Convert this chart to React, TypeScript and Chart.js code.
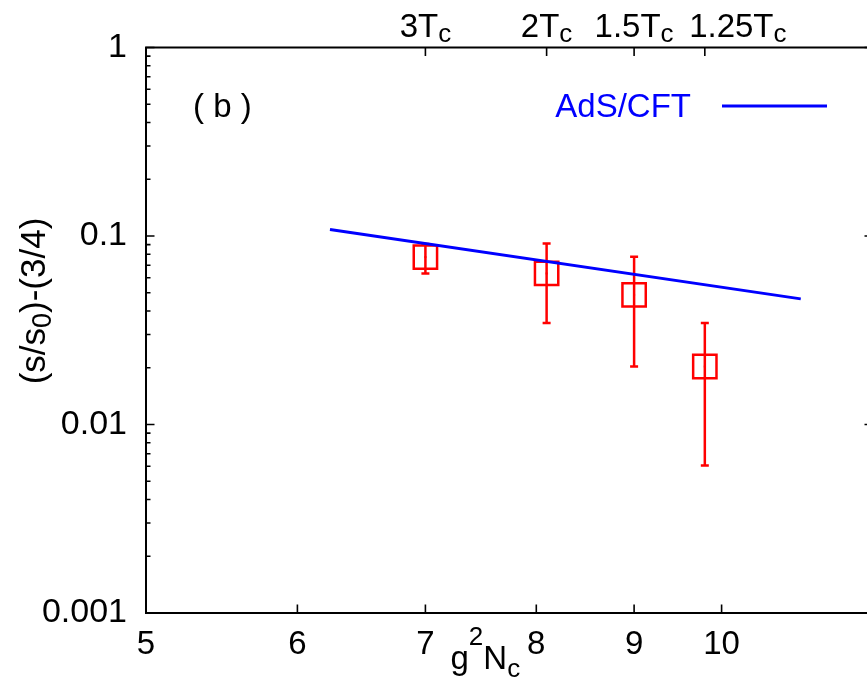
import React, { useEffect, useRef } from "react";
import { Chart, registerables } from "chart.js";

Chart.register(...registerables);

// ---- data ----
const X_TICKS = [5, 6, 7, 8, 9, 10];
const Y_TICKS = [1, 0.1, 0.01, 0.001];
const Y_TICK_LABELS = ["1", "0.1", "0.01", "0.001"];
const Y_MINOR = [
  0.9, 0.8, 0.7, 0.6, 0.5, 0.4, 0.3, 0.2,
  0.09, 0.08, 0.07, 0.06, 0.05, 0.04, 0.03, 0.02,
  0.009, 0.008, 0.007, 0.006, 0.005, 0.004, 0.003, 0.002,
];
const TOP_TICKS = [7.0, 8.1, 9.0, 9.8];
const TOP_LABELS = ["3T", "2T", "1.5T", "1.25T"];

const ADS_X = [6.24, 11.0];
const ADS_Y = [0.1084, 0.0464];

const LAT_X = [7.0, 8.1, 9.0, 9.8];
const LAT_Y = [0.0773, 0.0633, 0.0487, 0.0203];
const LAT_LO = [0.0633, 0.0346, 0.0203, 0.00606];
const LAT_HI = [0.0906, 0.0913, 0.0776, 0.0346];

const FONT = '"Liberation Sans", Arial, Helvetica, sans-serif';

type Part = [string, number, number];

function drawParts(ctx: CanvasRenderingContext2D, parts: Part[], x: number, y: number, align: "left" | "center" | "right") {
  let total = 0;
  const widths: number[] = [];
  for (const p of parts) {
    ctx.font = `${p[1]}px ${FONT}`;
    const w = ctx.measureText(p[0]).width;
    widths.push(w);
    total += w;
  }
  let cx = align === "center" ? x - total / 2 : align === "right" ? x - total : x;
  ctx.textAlign = "left";
  ctx.textBaseline = "alphabetic";
  parts.forEach((p, i) => {
    ctx.font = `${p[1]}px ${FONT}`;
    ctx.fillText(p[0], cx, y + p[2]);
    cx += widths[i];
  });
}

const decorPlugin = {
  id: "decor",
  beforeDatasetsDraw(chart: any) {
    const ctx: CanvasRenderingContext2D = chart.ctx;
    const xs = chart.scales.x;
    const ys = chart.scales.y;
    ctx.save();
    ctx.strokeStyle = "#ff0000";
    ctx.lineWidth = 2.5;
    ctx.beginPath();
    for (let i = 0; i < LAT_X.length; i++) {
      const px = xs.getPixelForValue(LAT_X[i]);
      const lo = ys.getPixelForValue(LAT_LO[i]);
      const hi = ys.getPixelForValue(LAT_HI[i]);
      ctx.moveTo(px, lo);
      ctx.lineTo(px, hi);
      ctx.moveTo(px - 4, lo);
      ctx.lineTo(px + 4, lo);
      ctx.moveTo(px - 4, hi);
      ctx.lineTo(px + 4, hi);
    }
    ctx.stroke();
    ctx.fillStyle = "#ff0000";
    for (let i = 0; i < LAT_X.length; i++) {
      const px = xs.getPixelForValue(LAT_X[i]);
      const py = ys.getPixelForValue(LAT_Y[i]);
      ctx.fillRect(px - 1, py - 1, 2, 2);
    }
    ctx.restore();
  },
  afterDraw(chart: any) {
    const ctx: CanvasRenderingContext2D = chart.ctx;
    const { left, right, top, bottom } = chart.chartArea;
    const xs = chart.scales.x;
    const ys = chart.scales.y;
    ctx.save();
    ctx.strokeStyle = "#000";
    ctx.lineWidth = 2;
    ctx.beginPath();
    ctx.moveTo(left, top);
    ctx.lineTo(right, top);
    ctx.lineTo(right, bottom);
    ctx.lineTo(left, bottom);
    ctx.closePath();
    ctx.stroke();

    ctx.lineWidth = 1.6;
    ctx.beginPath();
    for (const v of Y_TICKS) {
      const py = ys.getPixelForValue(v);
      ctx.moveTo(left, py);
      ctx.lineTo(left + 8.5, py);
      ctx.moveTo(right, py);
      ctx.lineTo(right - 8.5, py);
    }
    for (const v of Y_MINOR) {
      const py = ys.getPixelForValue(v);
      ctx.moveTo(left, py);
      ctx.lineTo(left + 4.5, py);
      ctx.moveTo(right, py);
      ctx.lineTo(right - 4.5, py);
    }
    for (const v of X_TICKS) {
      const px = xs.getPixelForValue(v);
      ctx.moveTo(px, bottom);
      ctx.lineTo(px, bottom - 8.5);
    }
    for (const v of TOP_TICKS) {
      const px = xs.getPixelForValue(v);
      ctx.moveTo(px, top);
      ctx.lineTo(px, top + 8.5);
    }
    ctx.stroke();

    ctx.fillStyle = "#000";
    TOP_TICKS.forEach((v, i) => {
      const px = xs.getPixelForValue(v) + (i === TOP_TICKS.length - 1 ? 33 : 0);
      drawParts(ctx, [[TOP_LABELS[i], 33, 0], ["c", 26, 5]], px, top - 11, "center");
    });

    // x axis title
    drawParts(ctx, [["g", 33, 0], ["2", 26, -24], ["N", 33, 0], ["c", 26, 8]], 450.5, 669, "left");

    // y axis title
    ctx.save();
    ctx.translate(45, 301);
    ctx.rotate(-Math.PI / 2);
    drawParts(ctx, [["(s/s", 35, 0], ["0", 27, 6], [")-(3/4)", 35, 0]], 0, 0, "center");
    ctx.restore();

    // panel label
    drawParts(ctx, [["( b )", 33, 0]], 193, 117, "left");

    // legend
    ctx.fillStyle = "#0000ff";
    drawParts(ctx, [["AdS/CFT", 33, 0]], 691, 117, "right");
    ctx.strokeStyle = "#0000ff";
    ctx.lineWidth = 3;
    ctx.beginPath();
    ctx.moveTo(722, 106);
    ctx.lineTo(827, 106);
    ctx.stroke();
    ctx.restore();
  },
};

export default function App() {
  const ref = useRef<HTMLCanvasElement | null>(null);
  useEffect(() => {
    if (!ref.current) return;
    const chart = new Chart(ref.current, {
      type: "scatter",
      data: {
        datasets: [
          {
            type: "line",
            label: "AdS/CFT",
            data: ADS_X.map((x, i) => ({ x, y: ADS_Y[i] })),
            borderColor: "#0000ff",
            borderWidth: 3,
            pointRadius: 0,
            fill: false,
            tension: 0,
          } as any,
          {
            label: "lattice",
            data: LAT_X.map((x, i) => ({ x, y: LAT_Y[i] })),
            pointStyle: "rect",
            pointRadius: 16.5,
            pointBorderWidth: 2.5,
            borderColor: "#ff0000",
            backgroundColor: "rgba(0,0,0,0)",
            pointBackgroundColor: "rgba(0,0,0,0)",
            showLine: false,
          } as any,
        ],
      },
      options: {
        animation: false,
        responsive: false,
        maintainAspectRatio: false,
        devicePixelRatio: 1,
        layout: { autoPadding: false, padding: { top: 47.5, right: 7, left: 0, bottom: 0 } },
        plugins: { legend: { display: false }, tooltip: { enabled: false } },
        scales: {
          x: {
            type: "logarithmic",
            min: 5,
            max: 12,
            afterBuildTicks: (s: any) => {
              s.ticks = X_TICKS.map((v) => ({ value: v }));
            },
            afterFit: (s: any) => {
              s.height = 66;
            },
            grid: { display: false, drawTicks: false },
            border: { display: false },
            ticks: {
              autoSkip: false,
              maxRotation: 0,
              padding: 12,
              color: "#000",
              font: { family: FONT, size: 33 },
              callback: (v: any) => String(Math.round(Number(v))),
            },
          },
          y: {
            type: "logarithmic",
            min: 0.001,
            max: 1,
            afterBuildTicks: (s: any) => {
              s.ticks = Y_TICKS.map((v) => ({ value: v }));
            },
            afterFit: (s: any) => {
              s.width = 146;
            },
            grid: { display: false, drawTicks: false },
            border: { display: false },
            ticks: {
              autoSkip: false,
              padding: 19,
              color: "#000",
              font: { family: FONT, size: 34 },
              callback: (v: any) => {
                const n = Number(v);
                const idx = Y_TICKS.findIndex((t) => Math.abs(Math.log10(t) - Math.log10(n)) < 1e-6);
                return idx >= 0 ? Y_TICK_LABELS[idx] : "";
              },
            },
          },
        },
      } as any,
      plugins: [decorPlugin],
    });
    return () => chart.destroy();
  }, []);
  return (
    <div style={{ position: "absolute", left: 0, top: 0, width: 867, height: 679, overflow: "hidden", background: "#fff" }}>
      <div style={{ width: 880, height: 679 }}>
        <canvas ref={ref} width={880} height={679} style={{ display: "block", width: 880, height: 679 }} />
      </div>
    </div>
  );
}
